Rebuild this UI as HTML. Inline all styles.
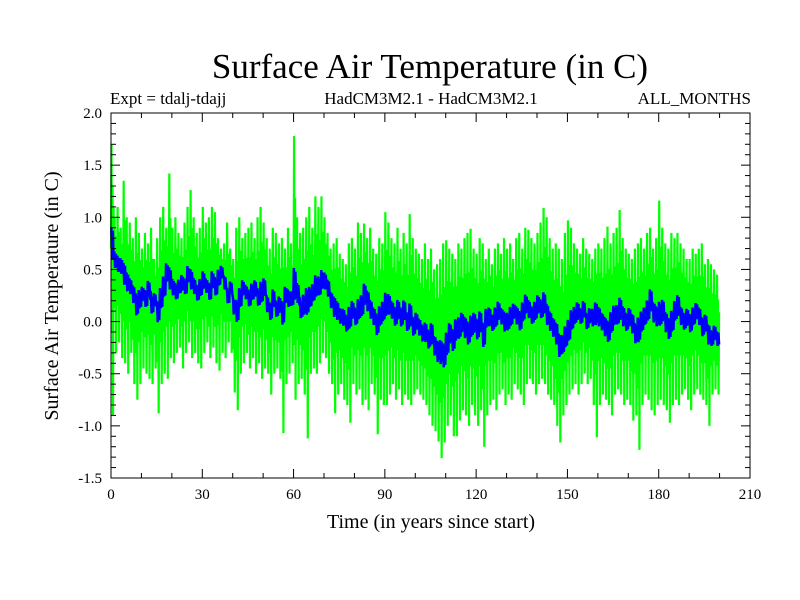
<!DOCTYPE html>
<html><head><meta charset="utf-8"><style>
body{margin:0;background:#fff}
svg{display:block;font-family:"Liberation Serif",serif}
</style></head><body>
<svg id="chart" width="800" height="600" viewBox="0 0 800 600">
<rect width="800" height="600" fill="#fff"/>
<text x="430" y="78" font-size="35" text-anchor="middle">Surface Air Temperature (in C)</text>
<text x="110" y="104" font-size="17">Expt = tdalj-tdajj</text>
<text x="431" y="104" font-size="17" text-anchor="middle">HadCM3M2.1 - HadCM3M2.1</text>
<text x="751" y="104" font-size="17" text-anchor="end">ALL_MONTHS</text>
<text x="431" y="528" font-size="20" text-anchor="middle">Time (in years since start)</text>
<text transform="translate(58,296) rotate(-90)" font-size="20" text-anchor="middle">Surface Air Temperature (in C)</text>
<g id="plot"></g>
<g id="axes"></g>
</svg>
<script>
const xTicks=[0,30,60,90,120,150,180,210];
const yTicks=[-1.5,-1.0,-0.5,0.0,0.5,1.0,1.5,2.0];
const greenMax=[1.7,1.0,1.1,0.9,1.35,1.0,0.95,0.8,1.0,0.85,
0.7,0.85,0.75,0.9,0.6,0.8,1.0,1.1,0.9,1.42,
0.9,1.0,0.85,0.8,0.95,1.1,1.26,1.0,0.85,0.9,
1.1,0.95,1.0,1.1,1.05,0.8,0.7,0.75,0.95,0.7,
0.6,0.9,1.0,0.8,0.85,0.9,0.95,0.8,1.0,1.1,
0.95,0.8,0.7,0.9,0.85,0.75,0.8,0.7,0.9,0.75,
1.78,1.0,0.85,0.9,1.0,1.1,0.9,1.2,1.1,1.2,
1.0,0.85,0.7,0.75,0.8,0.65,0.6,0.55,0.75,0.8,
0.7,0.95,0.85,0.94,0.8,0.9,0.7,0.65,0.8,0.75,
1.05,0.95,0.8,0.75,0.9,0.7,0.85,0.75,1.03,0.8,
0.7,0.65,0.6,0.75,0.6,0.7,0.5,0.55,0.6,0.75,
0.78,0.7,0.65,0.6,0.75,0.7,0.8,0.85,0.89,0.7,
0.65,0.8,0.75,0.6,0.7,0.55,0.7,0.75,0.65,0.8,
0.7,0.75,0.6,0.8,0.85,0.7,0.9,0.88,0.8,0.75,
0.85,0.95,1.09,1.0,0.8,0.7,0.75,0.7,0.6,0.85,
0.97,0.9,0.75,0.7,0.65,0.8,0.7,0.65,0.6,0.7,
0.75,0.7,0.8,0.91,0.75,0.85,0.9,1.07,0.8,0.7,
0.65,0.6,0.7,0.75,0.8,0.7,0.85,0.9,0.7,0.8,
1.16,0.9,0.75,0.7,0.85,0.8,0.85,0.75,0.7,0.6,
0.6,0.7,0.65,0.7,0.75,0.55,0.6,0.55,0.5,0.45];
const greenMin=[-0.9,-0.3,-0.2,-0.35,-0.4,-0.5,-0.3,-0.6,-0.75,-0.6,
-0.45,-0.5,-0.55,-0.6,-0.45,-0.88,-0.6,-0.5,-0.55,-0.35,
-0.4,-0.3,-0.25,-0.45,-0.3,-0.2,-0.35,-0.3,-0.4,-0.45,
-0.3,-0.2,-0.35,-0.25,-0.4,-0.47,-0.3,-0.35,-0.2,-0.3,
-0.68,-0.85,-0.5,-0.4,-0.3,-0.45,-0.35,-0.5,-0.4,-0.55,
-0.45,-0.5,-0.7,-0.5,-0.45,-0.55,-1.07,-0.6,-0.5,-0.4,
-0.75,-0.6,-0.55,-0.7,-1.12,-0.5,-0.45,-0.5,-0.4,-0.3,
-0.35,-0.5,-0.6,-0.88,-0.7,-0.6,-0.75,-0.8,-0.97,-0.6,
-0.7,-0.65,-0.8,-0.75,-0.85,-0.6,-0.7,-1.08,-0.75,-0.8,
-0.8,-0.7,-0.6,-0.75,-0.65,-0.8,-0.7,-0.75,-0.8,-0.7,
-0.65,-0.7,-0.75,-0.8,-0.9,-1.0,-1.05,-1.15,-1.31,-1.16,
-1.0,-0.9,-1.1,-1.1,-0.95,-0.85,-0.9,-1.0,-0.8,-0.9,
-1.0,-0.85,-1.2,-0.9,-0.8,-0.75,-0.85,-0.7,-0.65,-0.8,
-0.7,-0.75,-0.6,-0.65,-0.7,-0.8,-0.6,-0.55,-0.6,-0.7,
-0.6,-0.55,-0.6,-0.7,-0.75,-0.8,-1.0,-1.16,-0.9,-0.8,
-0.7,-0.65,-0.6,-0.7,-0.6,-0.5,-0.6,-0.55,-0.8,-1.11,
-0.8,-0.7,-0.75,-0.8,-0.9,-0.7,-0.65,-0.7,-0.8,-0.75,
-0.8,-0.95,-0.9,-1.23,-0.8,-0.7,-0.75,-0.85,-0.9,-0.8,
-0.75,-0.8,-0.85,-0.97,-0.8,-0.75,-0.8,-0.7,-0.65,-0.75,
-0.85,-0.7,-0.65,-0.7,-0.75,-0.8,-1.0,-0.7,-0.65,-0.7];
const blueMean=[0.7,0.55,0.5,0.5,0.4,0.35,0.3,0.25,0.15,0.2,
0.25,0.2,0.3,0.15,0.2,0.1,0.2,0.3,0.45,0.35,
0.3,0.25,0.3,0.35,0.3,0.4,0.35,0.3,0.25,0.3,
0.35,0.3,0.25,0.35,0.3,0.4,0.45,0.35,0.2,0.3,
0.15,0.1,0.2,0.3,0.25,0.2,0.25,0.3,0.2,0.25,
0.3,0.15,0.1,0.2,0.1,0.15,0.1,0.25,0.2,0.2,
0.3,0.25,0.1,0.15,0.2,0.2,0.25,0.3,0.3,0.35,
0.35,0.3,0.2,0.15,0.1,0.05,0.05,0.0,0.05,0.1,
0.05,0.1,0.15,0.25,0.2,0.1,0.05,0.0,0.05,0.1,
0.15,0.15,0.1,0.05,0.1,0.05,0.1,0.0,0.05,-0.05,
0.0,-0.05,-0.1,-0.1,-0.15,-0.1,-0.2,-0.25,-0.25,-0.3,
-0.2,-0.1,-0.15,-0.05,-0.05,0.0,-0.05,-0.1,-0.05,0.0,
-0.05,0.0,-0.1,0.05,0.05,0.0,0.05,0.1,0.05,0.0,
0.0,0.05,0.1,0.05,0.0,0.1,0.15,0.1,0.05,0.1,
0.15,0.1,0.15,0.05,0.0,-0.05,-0.1,-0.2,-0.2,-0.15,
-0.1,0.0,0.05,0.1,0.05,0.1,0.0,0.05,0.05,0.1,
0.05,0.0,-0.05,-0.1,0.0,0.05,0.05,0.1,0.05,0.0,
0.05,0.0,-0.1,-0.05,0.0,0.05,0.1,0.2,0.1,0.05,
0.05,0.1,0.0,-0.05,0.0,0.1,0.15,0.05,0.0,0.05,
0.0,0.05,0.1,0.05,-0.05,0.0,-0.1,-0.15,-0.1,-0.15];

const X0=111,X1=750,Y0=478,Y1=113;
const xMin=0,xMax=210,yMin=-1.5,yMax=2.0;
const xs=v=>X0+(v-xMin)/(xMax-xMin)*(X1-X0);
const ys=v=>Y0-(v-yMin)/(yMax-yMin)*(Y0-Y1);
const NS="http://www.w3.org/2000/svg";
const plot=document.getElementById('plot');
const axes=document.getElementById('axes');
function mk(tag,attrs,parent){const e=document.createElementNS(NS,tag);for(const k in attrs)e.setAttribute(k,attrs[k]);parent.appendChild(e);return e;}

// green monthly series
let gp=[];
for(let i=0;i<greenMax.length;i++){
  const m=blueMean[i],hi=greenMax[i],lo=greenMin[i];
  gp.push(xs(i)+','+ys(m));
  gp.push(xs(i+1/6)+','+ys(hi));
  gp.push(xs(i+2/6)+','+ys(m+0.5*(lo-m)));
  gp.push(xs(i+3/6)+','+ys(m+0.6*(hi-m)));
  gp.push(xs(i+4/6)+','+ys(lo));
  gp.push(xs(i+5/6)+','+ys(m+0.4*(hi-m)));
}
const gl=mk('polyline',{points:gp.join(' '),fill:'none',stroke:'#00ff00','stroke-width':2.2,'stroke-linejoin':'miter'},plot);



// blue smoothed series
let bp=[];
for(let i=0;i<blueMean.length;i++){
  const m=blueMean[i];
  bp.push(xs(i+0.1)+','+ys(m+0.12*greenMax[i]));
  bp.push(xs(i+0.35)+','+ys(m+0.12*greenMin[i]));
  bp.push(xs(i+0.6)+','+ys(m+0.1*greenMax[i]));
  bp.push(xs(i+0.85)+','+ys(m+0.1*greenMin[i]));
}
const bl=mk('polyline',{points:bp.join(' '),fill:'none',stroke:'#0000ff','stroke-width':2.5,'stroke-linejoin':'miter'},plot);



// frame
const fr=mk('rect',{x:X0,y:Y1,width:X1-X0,height:Y0-Y1,fill:'none',stroke:'#000','stroke-width':1},axes);



for(let v=xMin;v<=xMax;v+=10){
  const major=v%30===0,L=major?9:5,x=xs(v);
  mk('line',{x1:x,x2:x,y1:Y0,y2:Y0-L,stroke:'#000'},axes);
  mk('line',{x1:x,x2:x,y1:Y1,y2:Y1+L,stroke:'#000'},axes);
}
xTicks.forEach(v=>{
  const t=mk('text',{x:xs(v),y:Y0+21,'font-size':15,'text-anchor':'middle'},axes);
  t.textContent=String(v);
  
  
});
for(let k=0;k<=35;k++){
  const v=yMin+k*0.1,major=k%5===0,L=major?9:5,y=ys(v);
  mk('line',{x1:X0,x2:X0+L,y1:y,y2:y,stroke:'#000'},axes);
  mk('line',{x1:X1,x2:X1-L,y1:y,y2:y,stroke:'#000'},axes);
}
yTicks.forEach(v=>{
  const t=mk('text',{x:X0-9,y:ys(v)+5,'font-size':15,'text-anchor':'end'},axes);
  t.textContent=v.toFixed(1);
  
  
});
</script>
</body></html>
